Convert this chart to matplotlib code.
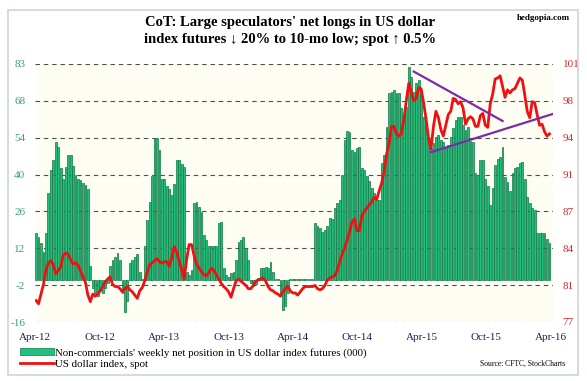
import matplotlib
matplotlib.use("Agg")
import matplotlib.pyplot as plt
import matplotlib.patches as mpatches
import matplotlib.lines as mlines
import numpy as np
import pandas as pd

plt.rcParams['font.family'] = ['Liberation Serif', 'DejaVu Serif']

# weekly non-commercial net position in US dollar index futures (000)
net_longs = [
    18, 16.5, 14.2, 10.8, 18, 33.4, 42.3, 46, 53, 51.3,
    43, 39, 43.6, 48, 48, 44, 40.4, 39, 38.5, 37.5,
    36.6, 35, 5.5, -3, -5, -6, -4, -5, -3, -1,
    5.5, 7.8, 9, 10.4, 7.8, -5, -12, -8, 6.5, 7.8,
    9, 10, 3.3, 0.5, 13, 23, 30, 40, 54.5, 54.5,
    50, 39, 39, 36, 35, 32.7, 37, 46, 46, 44.5,
    43.6, 3, 2, 4, 29.7, 30.2, 28.3, 26.3, 17.4, 15.5,
    13, 13, 13, 13, 21.9, 22.5, 4.6, 2, 1.4, 2.7,
    3.3, 7.8, 14.8, 15.5, 16.8, 12.3, 7.8, -1, -2, -1.5,
    1, 4.6, 4.6, 5.2, 4.6, 7.2, 3.3, 0.5, 0.5, -6,
    -11.4, -10, -5, 0.5, 0.6, 0.5, 0.6, 0.5, 0.6, 0.5,
    0.6, 0.5, 0.6, 22, 21, 20, 18.5, 19.3, 21, 23.8,
    23.4, 27.6, 29.5, 31, 40.4, 53.8, 57.4, 57, 50, 49.4,
    50.6, 51, 43, 42.3, 40, 38, 35.5, 33.4, 30.8, 31,
    45, 48, 59, 71.7, 72.4, 73, 71.7, 71.7, 66, 64,
    66.6, 82, 78, 72.4, 75.6, 76.9, 71, 62.8, 59.6, 54.5,
    50.6, 52.6, 55, 55.8, 53.8, 53.2, 50.6, 51.9, 55, 58.3,
    61.5, 62.8, 62.8, 59.6, 57.7, 59, 53.5, 53, 41, 40.4,
    46.2, 46, 39, 36, 29, 35.3, 44.2, 46.5, 47.4, 51.3,
    39.8, 37.9, 34.3, 41, 43, 43.6, 44.9, 45.5, 39, 32,
    29.5, 27.6, 27, 18, 18.3, 18.3, 18, 16, 14.2,
]

# US dollar index, spot (weekly)
spot = [
    79.0, 78.7, 79.6, 80.5, 81.8, 82.5, 82.7, 82.3, 81.5, 81.8,
    82.1, 83.2, 83.4, 83.3, 82.8, 82.4, 82.5, 82.3, 81.7, 81.2,
    80.7, 79.5, 78.9, 79.6, 79.4, 79.6, 79.9, 80.3, 80.7, 81.0,
    81.2, 80.5, 80.3, 80.3, 80.1, 79.8, 80.1, 80.3, 80.0, 79.8,
    79.5, 79.2, 79.9, 80.2, 80.8, 81.6, 82.3, 82.5, 82.7, 82.9,
    82.6, 82.5, 82.6, 82.6, 82.2, 83.0, 84.0, 83.5, 82.6, 81.9,
    81.0, 82.8, 84.2, 84.2, 83.2, 82.4, 82.0, 81.7, 81.4, 81.3,
    81.6, 82.0, 81.8, 81.4, 81.0, 80.6, 80.3, 80.1, 79.8, 79.3,
    80.1, 80.8, 81.0, 80.8, 80.6, 80.4, 80.1, 80.1, 80.4, 80.8,
    80.9, 81.0, 81.1, 80.8, 80.3, 80.0, 79.9, 79.7, 79.6, 79.4,
    79.8, 80.1, 80.3, 79.9, 79.7, 79.7, 79.5, 79.8, 80.1, 80.3,
    80.3, 80.3, 80.3, 80.4, 80.1, 80.0, 80.1, 80.4, 80.9, 81.1,
    81.2, 81.3, 81.8, 82.6, 83.3, 83.9, 84.6, 85.4, 86.3, 86.6,
    85.5, 85.5, 86.9, 87.3, 87.6, 87.9, 88.2, 88.6, 88.4, 89.2,
    89.9, 91.0, 92.6, 93.6, 95.2, 95.2, 94.5, 94.3, 94.5, 95.8,
    97.6, 99.2, 98.4, 97.6, 97.8, 98.8, 98.7, 97.4, 95.9, 94.1,
    93.1, 95.2, 96.6, 96.0, 94.9, 94.3, 95.3, 96.3, 96.6, 97.8,
    97.7, 97.3, 97.5, 96.9, 95.4, 95.9, 96.1, 95.9, 95.2, 95.2,
    96.2, 96.4, 95.3, 95.1, 97.3, 98.2, 99.6, 99.7, 99.9, 98.9,
    97.9, 98.6, 98.3, 98.6, 98.7, 99.2, 99.7, 99.5, 98.1, 96.6,
    96.0, 97.5, 97.4, 96.3, 95.3, 95.4, 94.7, 94.3, 94.5,
]

dates = pd.date_range('2012-04-03', periods=len(net_longs), freq='7D')

# trend lines drawn on the spot index (start/end)
down_dates = ['2015-03-10', '2015-11-17']
down_vals = [100.3, 95.7]
up_dates = ['2015-04-28', '2016-04-12']
up_vals = [92.8, 96.4]

left_ticks = ['-16', '-2', '12', '26', '40', '54', '68', '83']
right_ticks = ['77', '81', '84', '87', '91', '94', '98', '101']
x_ticks = ['2012-04-01', '2012-10-01', '2013-04-01', '2013-10-01', '2014-04-01',
           '2014-10-01', '2015-04-01', '2015-10-01', '2016-04-01']
x_labels = ['Apr-12', 'Oct-12', 'Apr-13', 'Oct-13', 'Apr-14', 'Oct-14', 'Apr-15', 'Oct-15', 'Apr-16']

W, H = 587, 381
fig = plt.figure(figsize=(W / 100, H / 100), dpi=100)
fig.patch.set_facecolor('white')

# outer frame
fig.patches.append(mpatches.Rectangle((8 / W, 6 / H), 570 / W, 365 / H, transform=fig.transFigure,
                                      fill=False, edgecolor='#c9d5e3', linewidth=1.2))

ax = fig.add_axes([35 / W, 59 / H, 518 / W, 258 / H])
ax.set_facecolor('#fdfdf4')
ax.bar(dates, net_longs, width=5.2, color='#20bf7c', edgecolor='#0a7a44', linewidth=0.5, zorder=2)
ax.set_ylim(-16, 83)
yt = np.linspace(-16, 83, 8)
ax.set_yticks(yt)
ax.set_yticklabels(left_ticks, color='#33a66a', fontsize=8)
for y in yt:
    ax.axhline(y, color='#505050', lw=0.8, ls=(0, (4, 3.5)), zorder=1)
ax.set_xlim(pd.Timestamp('2012-03-31'), pd.Timestamp('2016-04-08'))
ax.set_xticks(pd.to_datetime(x_ticks))
ax.set_xticklabels(x_labels, color='#1c2050', fontsize=8)
ax.tick_params(length=0, pad=8)
ax.tick_params(axis='y', pad=7)
for s in ax.spines.values():
    s.set_visible(False)

ax2 = ax.twinx()
ax2.plot(dates, spot, color='#ee1111', lw=2.0, zorder=4, solid_joinstyle='round')
ax2.plot(pd.to_datetime(down_dates), down_vals, color='#7a2ca8', lw=1.6, zorder=5)
ax2.plot(pd.to_datetime(up_dates), up_vals, color='#7a2ca8', lw=1.6, zorder=5)
ax2.set_ylim(77, 101)
ax2.set_yticks(np.linspace(77, 101, 8))
ax2.set_yticklabels(right_ticks, color='#d42a2a', fontsize=8)
ax2.tick_params(length=0, pad=7)
for s in ax2.spines.values():
    s.set_visible(False)

fig.text(0.494, 1 - 31 / H, "CoT: Large speculators' net longs in US dollar\nindex futures \u2193 20% to 10-mo low; spot \u2191 0.5%",
         ha='center', va='center', fontsize=10.5, fontweight='bold', linespacing=1.45)
fig.text(570 / W, 1 - 18 / H, 'hedgopia.com', ha='right', va='center', fontsize=6.5, fontweight='bold')

handles = [mpatches.Patch(facecolor='#20bf7c', edgecolor='#0a7a44', linewidth=0.5),
           mlines.Line2D([], [], color='#ee1111', lw=2)]
labels = ["Non-commercials' weekly net position in US dollar index futures (000)", 'US dollar index, spot']
fig.legend(handles, labels, loc='upper left', bbox_to_anchor=(12 / W, 1 - 340 / H), frameon=False,
           fontsize=7.8, handlelength=3.2, handleheight=0.6, handletextpad=0.1, labelspacing=0.2,
           borderpad=0.2)
fig.text(565 / W, 1 - 364 / H, 'Source: CFTC, StockCharts', ha='right', va='center', fontsize=5.5)

fig.savefig('out.png', dpi=100)
